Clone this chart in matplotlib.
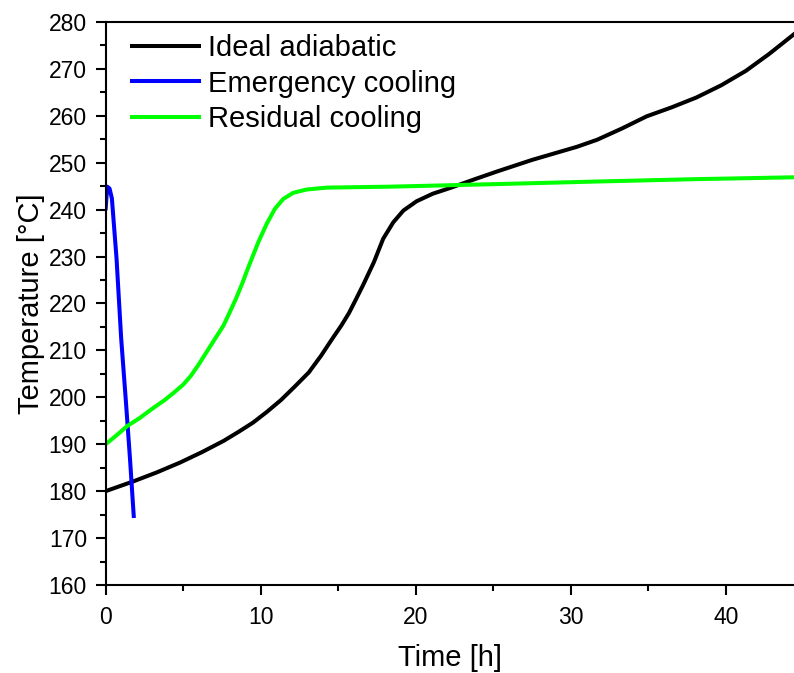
import matplotlib
matplotlib.use("Agg")
import matplotlib.pyplot as plt
from matplotlib.ticker import MultipleLocator

plt.rcParams["font.family"] = ["Liberation Sans", "DejaVu Sans"]

# Ideal adiabatic
t_black = [0, 1.8, 3.3, 4.8, 6.2, 7.6, 8.6, 9.5, 10.4, 11.3, 12.2, 13.1, 13.9, 14.6,
           15.2, 15.7, 16.1, 16.6, 17.3, 17.9, 18.55, 19.2, 20.06, 21.1, 22.2, 23.9,
           25.3, 27.5, 30.4, 31.7, 33.3, 34.9, 36.5, 38.1, 39.7, 41.3, 42.8, 44.4]
T_black = [180, 182.1, 184.0, 186.1, 188.3, 190.7, 192.7, 194.6, 196.9, 199.4, 202.3,
           205.3, 208.9, 212.4, 215.3, 218.0, 220.6, 223.9, 228.8, 233.8, 237.3, 239.8,
           241.8, 243.4, 244.6, 246.6, 248.2, 250.6, 253.4, 254.9, 257.3, 259.9, 261.8,
           263.9, 266.5, 269.6, 273.2, 277.4]

# Emergency cooling
t_blue = [0, 0.1, 0.25, 0.4, 0.7, 1.0, 1.3, 1.57, 1.81]
T_blue = [240.3, 244.9, 244.5, 242.4, 229.6, 212.5, 199.3, 186.8, 174.7]

# Residual cooling
t_green = [0, 0.7, 1.4, 2.2, 3.1, 3.8, 4.4, 5.0, 5.5, 6.0, 6.5, 7.0, 7.6, 8.0, 8.4,
           8.8, 9.2, 9.85, 10.39, 10.92, 11.46, 12.1, 12.97, 14.26, 18.3, 22.1, 27,
           31.7, 38, 44.4]
T_green = [190, 191.9, 193.9, 195.6, 197.8, 199.4, 201, 202.7, 204.6, 207, 209.6, 212.2,
           215.3, 218.1, 221, 224.2, 227.7, 233.1, 237, 240.2, 242.3, 243.6, 244.3,
           244.7, 244.9, 245.2, 245.6, 246.0, 246.5, 246.9]

fig = plt.figure(figsize=(7.94, 6.73), dpi=100)
ax = fig.add_axes([0.1331, 0.1308, 0.8669, 0.8365])

ax.plot(t_black, T_black, color="black", lw=2.9, label="Ideal adiabatic")
ax.plot(t_blue, T_blue, color="#0000ff", lw=2.9, label="Emergency cooling")
ax.plot(t_green, T_green, color="#00ff00", lw=2.9, label="Residual cooling")

ax.set_xlim(0, 44.4)
ax.set_ylim(160, 280)
ax.xaxis.set_major_locator(MultipleLocator(10))
ax.xaxis.set_minor_locator(MultipleLocator(5))
ax.yaxis.set_major_locator(MultipleLocator(10))
ax.yaxis.set_minor_locator(MultipleLocator(5))

ax.spines["right"].set_visible(False)
for s in ("left", "bottom", "top"):
    ax.spines[s].set_linewidth(1.5)

ax.tick_params(which="major", direction="out", length=7.5, width=1.5, labelsize=16.5)
ax.tick_params(axis="y", which="major", pad=6)
ax.tick_params(axis="x", which="major", pad=7.5)
ax.tick_params(which="minor", direction="out", length=4, width=1.5)

ax.set_xlabel("Time [h]", fontsize=21, labelpad=11)
ax.set_ylabel("Temperature [°C]", fontsize=21, labelpad=2.5)

ax.legend(loc="upper left", bbox_to_anchor=(0.038, 0.978), frameon=False, fontsize=21,
          handlelength=2.3, handletextpad=0.3, labelspacing=0.25, borderpad=0,
          borderaxespad=0)

fig.savefig("out.png", dpi=100)
